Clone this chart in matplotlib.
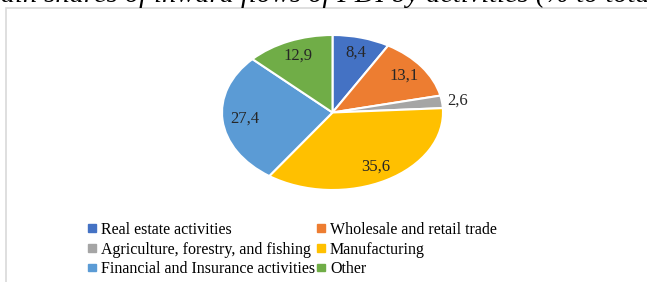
import numpy as np
import matplotlib.pyplot as plt
from matplotlib.patches import Rectangle

# data
activities = ["Real estate activities", "Wholesale and retail trade",
              "Agriculture, forestry, and fishing", "Manufacturing",
              "Financial and Insurance activities", "Other"]
shares = [8.4, 13.1, 2.6, 35.6, 27.4, 12.9]
share_labels = ["8,4", "13,1", "2,6", "35,6", "27,4", "12,9"]
colors = ["#4472C4", "#ED7D31", "#A5A5A5", "#FFC000", "#5B9BD5", "#70AD47"]
title = "Main shares of inward flows of FDI by activities (% to total)"

plt.rcParams["font.family"] = ["Liberation Serif", "DejaVu Serif"]

W, H = 647, 282
fig = plt.figure(figsize=(W / 100, H / 100), dpi=100)

# clipped title from the page above the chart
fig.text(-0.035, 1 - 1.5 / H, title, fontsize=20.5, style="italic",
         ha="left", va="baseline", color="black")

# chart frame
fig.patches.append(Rectangle((6 / W, -0.1), 1.0, 1 - 8 / H + 0.1,
                             transform=fig.transFigure, fill=False,
                             edgecolor="#D9D9D9", linewidth=1.2))

ax = fig.add_axes([222 / W, 92 / H, 221 / W, 155 / H])
wedges, _ = ax.pie(shares, colors=colors, startangle=90, counterclock=False,
                   wedgeprops=dict(edgecolor="white", linewidth=1.5))
ax.set_aspect("auto")
ax.set_xlim(-1, 1)
ax.set_ylim(-1, 1)

for w, lab in zip(wedges, share_labels):
    ang = np.deg2rad((w.theta1 + w.theta2) / 2)
    r = 0.8
    if lab == "2,6":
        r = 1.14
    ax.text(r * np.cos(ang), r * np.sin(ang), lab, ha="center", va="center",
            fontsize=12, color="#262626")

# legend is filled row by row in the reference
order = [0, 2, 4, 1, 3, 5]
handles = [Rectangle((0, 0), 1, 1, color=colors[i]) for i in order]
labels = [activities[i] for i in order]
fig.legend(handles, labels, ncol=2, loc="upper left",
           bbox_to_anchor=(80 / W, 1 - 214 / H), frameon=False,
           fontsize=11.5, handlelength=0.5, handleheight=0.35,
           handletextpad=0.3, columnspacing=0.15, labelspacing=0.22,
           borderpad=0)

fig.savefig("out.png", dpi=100)
